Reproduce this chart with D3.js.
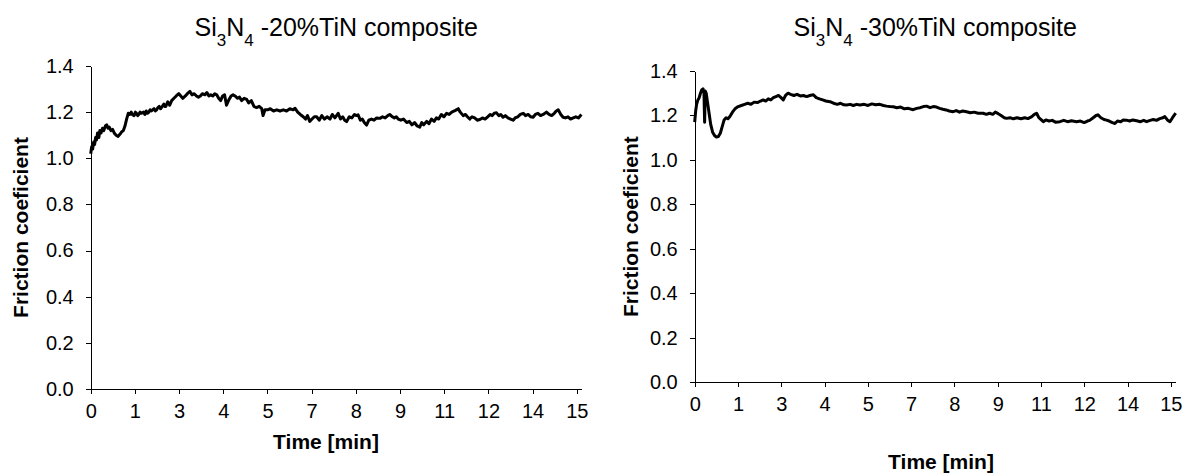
<!DOCTYPE html>
<html lang="en">
<head>
  <meta charset="UTF-8">
  <title>Friction coefficient vs time</title>
  <script src="https://d3js.org/d3.v7.min.js"></script>
  <style>
    html, body { margin: 0; padding: 0; background: #fff; }
    svg { display: block; }
    .axis path, .axis line { stroke: #000; stroke-width: 1px; shape-rendering: crispEdges; }
    .axis text { font-family: "Liberation Sans", Arial, sans-serif; font-size: 20px; fill: #000; }
    .title { font-family: "Liberation Sans", Arial, sans-serif; font-size: 25px; fill: #000; }
    .axis-title { font-family: "Liberation Sans", Arial, sans-serif; font-size: 21px; font-weight: bold; fill: #000; }
    .curve { fill: none; stroke: #000; stroke-width: 3px; stroke-linejoin: round; }
  </style>
</head>
<body>
  <svg id="chart" width="1192" height="476"></svg>
  <script>
  // tick labels as printed on the time axis (Excel-style rounding of an even step)
  const xTickLabels = ["0", "1", "3", "4", "5", "7", "8", "9", "11", "12", "14", "15"];
  const xTickStep = 1.3535;
  const xMax = 15.04;
  const yTicks = [0, 0.2, 0.4, 0.6, 0.8, 1.0, 1.2, 1.4];

  // Si3N4 - 20%TiN : [time (min), friction coefficient]
  const series20 = [
    [0.00,1.02],[0.03,1.05],[0.06,1.04],[0.09,1.07],[0.12,1.06],[0.15,1.09],[0.18,1.08],[0.21,1.11],
    [0.25,1.09],[0.28,1.12],[0.32,1.11],[0.36,1.13],[0.40,1.12],[0.45,1.14],[0.49,1.145],[0.53,1.13],
    [0.57,1.135],[0.62,1.12],[0.67,1.125],[0.72,1.11],[0.78,1.10],[0.84,1.095],[0.90,1.105],[0.95,1.115],
    [1.00,1.12],[1.05,1.14],[1.10,1.17],[1.15,1.195],[1.20,1.19],[1.24,1.20],[1.27,1.19],[1.33,1.185],[1.37,1.20],[1.40,1.195],
    [1.44,1.185],[1.47,1.19],[1.51,1.20],[1.55,1.195],[1.62,1.20],[1.66,1.19],[1.70,1.205],[1.74,1.195],[1.78,1.20],[1.82,1.21],[1.86,1.205],[1.94,1.215],[1.98,1.205],[2.02,1.21],
    [2.06,1.22],[2.10,1.225],[2.14,1.215],[2.17,1.22],[2.24,1.235],[2.27,1.225],[2.30,1.225],[2.36,1.245],[2.42,1.23],[2.48,1.25],[2.55,1.26],
    [2.62,1.27],[2.70,1.28],[2.76,1.27],[2.82,1.26],[2.90,1.27],[2.96,1.28],[3.04,1.29],[3.10,1.275],
    [3.17,1.28],[3.24,1.27],[3.30,1.265],[3.36,1.27],[3.42,1.28],[3.50,1.275],[3.56,1.285],[3.62,1.27],
    [3.68,1.275],[3.74,1.27],[3.80,1.28],[3.86,1.275],[3.92,1.26],[3.98,1.25],[4.04,1.27],[4.10,1.275],
    [4.16,1.23],[4.22,1.25],[4.30,1.27],[4.36,1.275],[4.42,1.27],[4.50,1.26],[4.56,1.265],[4.62,1.25],
    [4.70,1.26],[4.78,1.255],[4.84,1.24],[4.92,1.25],[5.00,1.225],[5.08,1.22],[5.16,1.225],[5.24,1.215],
    [5.28,1.185],[5.34,1.21],[5.42,1.21],[5.50,1.215],[5.60,1.205],[5.70,1.21],[5.80,1.205],[5.90,1.21],
    [6.00,1.205],[6.10,1.215],[6.20,1.21],[6.26,1.217],[6.34,1.20],[6.42,1.19],[6.51,1.18],[6.58,1.17],
    [6.64,1.185],[6.71,1.16],[6.78,1.17],[6.85,1.18],[6.92,1.18],[7.00,1.165],[7.08,1.185],[7.16,1.17],
    [7.24,1.18],[7.33,1.17],[7.40,1.19],[7.48,1.175],[7.58,1.195],[7.65,1.17],[7.72,1.18],[7.78,1.165],
    [7.84,1.159],[7.92,1.18],[8.00,1.175],[8.08,1.19],[8.14,1.185],[8.19,1.188],[8.26,1.165],[8.32,1.17],
    [8.38,1.155],[8.45,1.144],[8.52,1.165],[8.60,1.17],[8.68,1.165],[8.76,1.175],[8.86,1.173],[8.94,1.18],
    [9.02,1.175],[9.10,1.185],[9.16,1.19],[9.24,1.18],[9.30,1.175],[9.36,1.18],[9.42,1.17],[9.50,1.165],
    [9.58,1.17],[9.68,1.155],[9.76,1.16],[9.84,1.145],[9.92,1.155],[10.00,1.14],[10.08,1.135],[10.14,1.155],
    [10.20,1.145],[10.29,1.16],[10.36,1.15],[10.44,1.17],[10.52,1.16],[10.59,1.175],[10.66,1.17],[10.74,1.19],
    [10.82,1.18],[10.90,1.195],[10.98,1.19],[11.06,1.20],[11.14,1.205],[11.20,1.21],[11.26,1.215],[11.32,1.20],
    [11.41,1.185],[11.48,1.19],[11.54,1.18],[11.61,1.17],[11.68,1.18],[11.76,1.175],[11.84,1.165],[11.92,1.168],
    [12.00,1.175],[12.08,1.17],[12.16,1.18],[12.24,1.19],[12.30,1.185],[12.36,1.195],[12.43,1.197],[12.50,1.185],
    [12.56,1.19],[12.63,1.178],[12.70,1.185],[12.78,1.175],[12.86,1.17],[12.94,1.165],[13.00,1.175],[13.08,1.18],
    [13.16,1.19],[13.25,1.195],[13.32,1.185],[13.40,1.19],[13.48,1.18],[13.55,1.178],[13.62,1.19],[13.70,1.195],
    [13.78,1.185],[13.86,1.19],[13.96,1.20],[14.04,1.19],[14.12,1.185],[14.20,1.195],[14.26,1.205],[14.32,1.21],
    [14.40,1.19],[14.47,1.178],[14.54,1.175],[14.62,1.18],[14.70,1.17],[14.78,1.175],[14.86,1.18],[14.94,1.175],
    [15.03,1.19]
  ];

  // Si3N4 - 30%TiN : [time (min), friction coefficient]
  const series30 = [
    [0.00,1.17],[0.03,1.22],[0.06,1.25],[0.10,1.27],[0.14,1.28],[0.18,1.30],[0.22,1.315],[0.26,1.32],
    [0.29,1.30],[0.31,1.17],[0.33,1.31],[0.36,1.30],[0.40,1.26],[0.45,1.21],[0.50,1.16],[0.56,1.125],
    [0.62,1.11],[0.68,1.103],[0.74,1.105],[0.80,1.12],[0.86,1.15],[0.92,1.18],[0.98,1.19],[1.04,1.185],
    [1.10,1.195],[1.18,1.215],[1.26,1.23],[1.36,1.24],[1.46,1.245],[1.56,1.25],[1.66,1.255],[1.76,1.25],
    [1.86,1.26],[1.96,1.258],[2.06,1.265],[2.14,1.27],[2.22,1.265],[2.30,1.275],[2.38,1.27],[2.46,1.28],
    [2.54,1.285],[2.62,1.29],[2.70,1.28],[2.77,1.27],[2.84,1.29],[2.92,1.30],[3.00,1.295],[3.10,1.29],
    [3.20,1.295],[3.30,1.288],[3.40,1.29],[3.50,1.285],[3.60,1.29],[3.71,1.293],[3.80,1.28],[3.90,1.275],
    [4.00,1.27],[4.10,1.265],[4.23,1.262],[4.34,1.255],[4.46,1.25],[4.56,1.255],[4.66,1.248],[4.75,1.247],
    [4.86,1.25],[4.96,1.245],[5.06,1.25],[5.17,1.247],[5.30,1.25],[5.42,1.245],[5.54,1.252],[5.66,1.248],
    [5.79,1.25],[5.90,1.245],[6.00,1.242],[6.10,1.24],[6.21,1.239],[6.32,1.235],[6.44,1.238],[6.56,1.23],
    [6.68,1.232],[6.83,1.226],[6.94,1.232],[7.05,1.235],[7.15,1.24],[7.25,1.242],[7.36,1.235],[7.46,1.24],
    [7.56,1.238],[7.66,1.232],[7.76,1.228],[7.86,1.225],[7.96,1.22],[8.08,1.217],[8.18,1.222],[8.28,1.215],
    [8.38,1.22],[8.50,1.217],[8.62,1.212],[8.74,1.215],[8.86,1.21],[9.02,1.21],[9.12,1.205],[9.22,1.21],
    [9.32,1.205],[9.40,1.215],[9.49,1.208],[9.58,1.20],[9.68,1.19],[9.75,1.187],[9.86,1.19],[9.96,1.185],
    [10.08,1.19],[10.20,1.185],[10.32,1.19],[10.42,1.186],[10.54,1.195],[10.62,1.205],[10.69,1.21],[10.76,1.19],
    [10.84,1.18],[10.90,1.172],[10.98,1.18],[11.08,1.175],[11.18,1.178],[11.28,1.17],[11.42,1.172],[11.54,1.178],
    [11.66,1.172],[11.78,1.176],[11.94,1.172],[12.06,1.175],[12.18,1.168],[12.28,1.175],[12.35,1.178],[12.46,1.19],
    [12.55,1.20],[12.61,1.203],[12.70,1.19],[12.80,1.182],[12.88,1.179],[12.96,1.175],[13.06,1.168],[13.14,1.164],
    [13.22,1.175],[13.32,1.172],[13.40,1.18],[13.50,1.179],[13.60,1.175],[13.70,1.18],[13.82,1.176],[13.94,1.172],
    [14.04,1.178],[14.13,1.172],[14.24,1.178],[14.34,1.182],[14.44,1.178],[14.54,1.186],[14.64,1.19],[14.70,1.195],
    [14.78,1.18],[14.86,1.172],[14.94,1.19],[15.04,1.21]
  ];

  const svg = d3.select("#chart");

  // panel frames (pixel boxes of each plot area)
  const panels = [
    { data: series20, pct: "20", x0: 90.7, x1: 581.7, y0: 389, y1: 66,
      titleY: 36, xTitleX: 326, xTitleY: 449, yTitleX: 28 },
    { data: series30, pct: "30", x0: 694.7, x1: 1175.7, y0: 382.3, y1: 71,
      titleY: 36, xTitleX: 941, xTitleY: 469, yTitleX: 638 }
  ];

  panels.forEach(p => {
    const x = d3.scaleLinear().domain([0, xMax]).range([p.x0, p.x1]);
    const y = d3.scaleLinear().domain([0, 1.4]).range([p.y0, p.y1]);

    const xTickValues = xTickLabels.map((_, i) => i * xTickStep);

    svg.append("g")
      .attr("class", "axis")
      .attr("transform", `translate(0,${p.y0})`)
      .call(d3.axisBottom(x)
        .tickValues(xTickValues)
        .tickFormat((d, i) => xTickLabels[i])
        .tickSizeInner(5).tickSizeOuter(0).tickPadding(10));

    svg.append("g")
      .attr("class", "axis")
      .attr("transform", `translate(${p.x0},0)`)
      .call(d3.axisLeft(y)
        .tickValues(yTicks)
        .tickFormat(d3.format(".1f"))
        .tickSizeInner(5).tickSizeOuter(0).tickPadding(12));

    svg.append("path")
      .datum(p.data)
      .attr("class", "curve")
      .attr("d", d3.line().x(d => x(d[0])).y(d => y(d[1])));

    // chart title with subscripts
    const t = svg.append("text")
      .attr("class", "title")
      .attr("x", (p.x0 + p.x1) / 2)
      .attr("y", p.titleY)
      .attr("text-anchor", "middle");
    t.append("tspan").text("Si");
    t.append("tspan").attr("baseline-shift", "sub").attr("font-size", "17px").text("3");
    t.append("tspan").text("N");
    t.append("tspan").attr("baseline-shift", "sub").attr("font-size", "17px").text("4");
    t.append("tspan").text(` -${p.pct}%TiN composite`);

    svg.append("text")
      .attr("class", "axis-title")
      .attr("x", p.xTitleX)
      .attr("y", p.xTitleY)
      .attr("text-anchor", "middle")
      .text("Time [min]");

    svg.append("text")
      .attr("class", "axis-title")
      .attr("transform", `translate(${p.yTitleX},${(p.y0 + p.y1) / 2}) rotate(-90)`)
      .attr("text-anchor", "middle")
      .text("Friction coeficient");
  });
  </script>
</body>
</html>
